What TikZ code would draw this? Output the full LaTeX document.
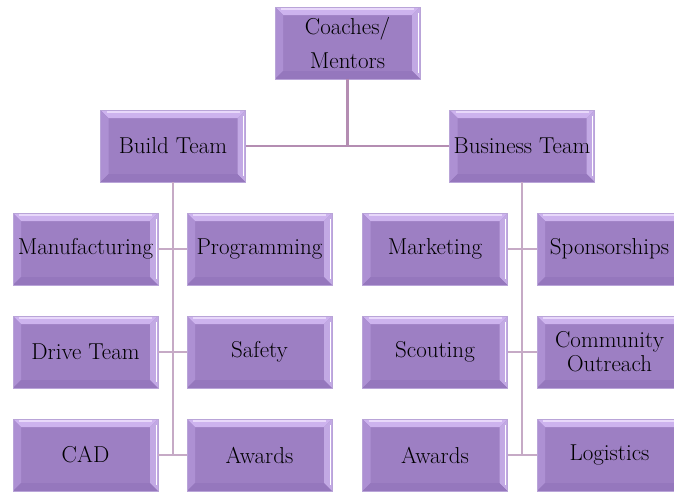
\documentclass[tikz,border=0pt]{standalone}
\usepackage{fontspec}
\usepackage{xcolor}
\usetikzlibrary{calc,positioning}
\definecolor{color_box_fill}{HTML}{9D7FC3}
\definecolor{color_box_edge}{HTML}{B9A4D8}
\definecolor{color_bevel_top}{HTML}{CDB3EE}
\definecolor{color_bevel_hi}{HTML}{E8D8FA}
\definecolor{color_bevel_left}{HTML}{AD90D3}
\definecolor{color_bevel_right}{HTML}{C2A9E4}
\definecolor{color_bevel_bottom}{HTML}{9577BD}
\definecolor{color_link}{HTML}{C6AAC6}
\definecolor{color_link_top}{HTML}{B48DB2}

\tikzset{
	unitbox/.style={
		draw=color_box_edge, line width=0.6pt, fill=color_box_fill,
		minimum width=145pt, minimum height=72pt, inner sep=0pt,
		align=center, font=\fontsize{23}{24}\selectfont,
		path picture={
			\coordinate (pNW) at (path picture bounding box.north west);
			\coordinate (pNE) at (path picture bounding box.north east);
			\coordinate (pSE) at (path picture bounding box.south east);
			\coordinate (pSW) at (path picture bounding box.south west);
			% Bevels
			\fill[color_bevel_top] (pNW) -- (pNE) -- ($(pNE)+(-8pt,-8pt)$) -- ($(pNW)+(8pt,-8pt)$) -- cycle;
			\fill[color_bevel_left] (pNW) -- ($(pNW)+(8pt,-8pt)$) -- ($(pSW)+(8pt,8pt)$) -- (pSW) -- cycle;
			\fill[color_bevel_right] (pNE) -- ($(pNE)+(-8pt,-8pt)$) -- ($(pSE)+(-8pt,8pt)$) -- (pSE) -- cycle;
			\fill[color_bevel_bottom] (pSW) -- ($(pSW)+(8pt,8pt)$) -- ($(pSE)+(-8pt,8pt)$) -- (pSE) -- cycle;
			% Highlights
			\draw[color_bevel_hi, line width=1.5pt] ($(pNW)+(6pt,-2pt)$) -- ($(pNE)+(-6pt,-2pt)$);
			\draw[white, line width=1pt] ($(pNE)+(-2pt,-6pt)$) -- ($(pSE)+(-2pt,6pt)$);
		}
	},
	link/.style={color_link, line width=2.5pt},
}

\begin{document}
\begin{tikzpicture}[x=1pt,y=-1pt]
	\clip (0, 0) rectangle (674, 491);
	% Top levels
	\node[unitbox] (coach) at (347.5, 43) {Coaches/\\[10pt]Mentors};
	\node[unitbox] (build) at (173, 146) {Build Team};
	\node[unitbox] (business) at (522, 146) {Business Team};

	% Build team units
	\node[unitbox] (manufacturing) at (85.5, 249) {Manufacturing};
	\node[unitbox] (programming) at (259.5, 249) {Programming};
	\node[unitbox] (drive) at (85.5, 352) {Drive Team};
	\node[unitbox] (safety) at (259.5, 352) {Safety};
	\node[unitbox] (cad) at (85.5, 455) {CAD};
	\node[unitbox] (awardsbuild) at (259.5, 455) {Awards};

	% Business team units
	\node[unitbox] (marketing) at (435, 249) {Marketing};
	\node[unitbox] (sponsorships) at (609.5, 249) {Sponsorships};
	\node[unitbox] (scouting) at (435, 352) {Scouting};
	\node[unitbox] (outreach) at (609.5, 352) {Community\\Outreach};
	\node[unitbox] (awardsbusiness) at (435, 455) {Awards};
	\node[unitbox] (logistics) at (609.5, 455) {Logistics};

	% Links
	\coordinate (hub) at (coach.south |- build.east);
	\draw[link, color_link_top] (coach.south) -- (hub);
	\draw[link, color_link_top] (build.east) -- (business.west);

	\coordinate (buildend) at (build.south |- cad.east);
	\draw[link] (build.south) -- (buildend);
	\draw[link] (manufacturing.east) -- (programming.west);
	\draw[link] (drive.east) -- (safety.west);
	\draw[link] (cad.east) -- (awardsbuild.west);

	\coordinate (businessend) at (business.south |- awardsbusiness.east);
	\draw[link] (business.south) -- (businessend);
	\draw[link] (marketing.east) -- (sponsorships.west);
	\draw[link] (scouting.east) -- (outreach.west);
	\draw[link] (awardsbusiness.east) -- (logistics.west);
\end{tikzpicture}
\end{document}
